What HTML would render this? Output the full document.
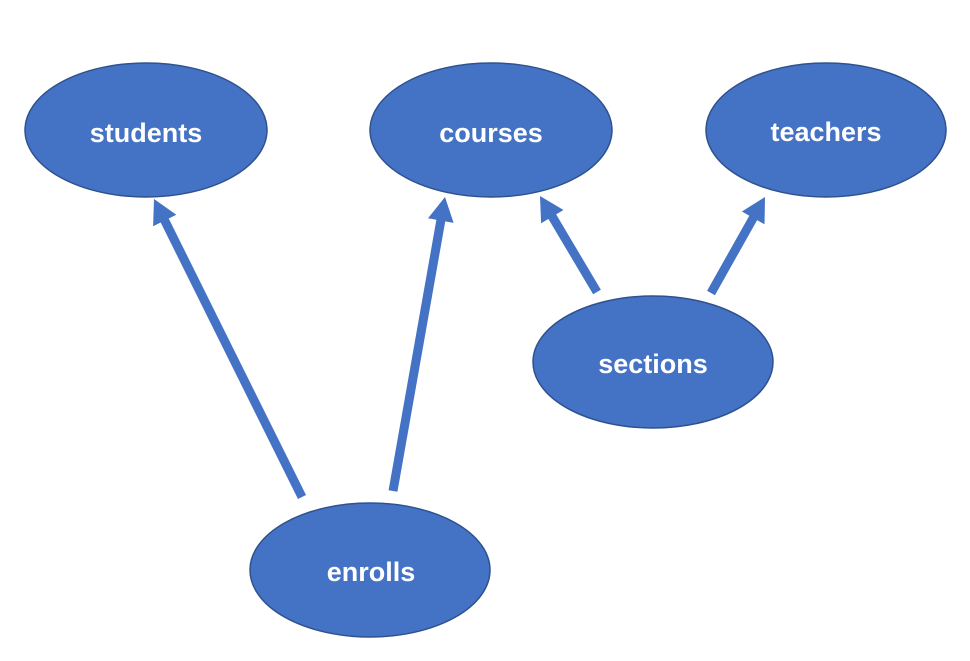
<!DOCTYPE html>
<html><head><meta charset="utf-8"><style>html,body{margin:0;padding:0;background:#fff}</style></head>
<body>
<svg width="970" height="656" viewBox="0 0 970 656" xmlns="http://www.w3.org/2000/svg">
<g stroke="#4472C4" stroke-width="9" fill="none">
<line x1="302" y1="497" x2="162.9" y2="216.9"/>
<line x1="393" y1="491" x2="441.5" y2="216.7"/>
<line x1="597" y1="292" x2="550.2" y2="213.2"/>
<line x1="711" y1="293" x2="755.2" y2="214.4"/>
</g>
<g fill="#4472C4">
<polygon points="154,199 176.3,214.7 153.1,226.3"/>
<polygon points="445,197 453.6,222.9 428.0,218.3"/>
<polygon points="540,196 563.5,210.0 541.1,223.2"/>
<polygon points="765,197 764.5,224.3 741.9,211.5"/>
</g>
<g fill="#4472C4" stroke="#2F528F" stroke-width="1.5">
<ellipse cx="146" cy="130" rx="121" ry="67"/>
<ellipse cx="491" cy="130" rx="121" ry="67"/>
<ellipse cx="826" cy="130" rx="120" ry="67"/>
<ellipse cx="653" cy="362" rx="120" ry="66"/>
<ellipse cx="370" cy="570" rx="120" ry="67"/>
</g>
<g fill="#fff" font-family="Liberation Sans, sans-serif" font-weight="bold" font-size="27" text-anchor="middle">
<text x="146" y="142">students</text>
<text x="491" y="142">courses</text>
<text x="826" y="141">teachers</text>
<text x="653" y="373">sections</text>
<text x="371" y="581">enrolls</text>
</g>
</svg>
</body></html>
